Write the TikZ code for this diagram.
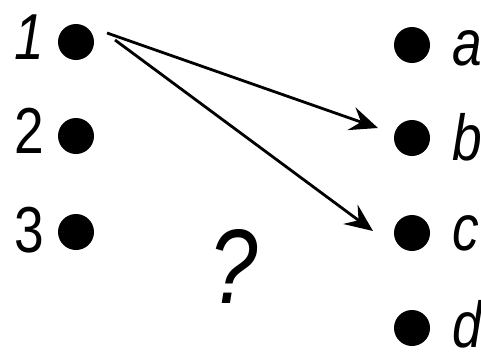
\documentclass[tikz,border=0pt]{standalone}
\usepackage{fontspec}
\setmainfont[FakeStretch=0.82]{Liberation Sans}
\usetikzlibrary{arrows.meta}
\begin{document}
\begin{tikzpicture}[x=1pt,y=-1pt,
  dot/.style={circle,fill=black,inner sep=0pt,minimum size=36pt},
  lbl/.style={inner sep=0pt,font=\fontsize{65}{65}\selectfont},
  arr/.style={line width=2.8pt,-{Stealth[length=28pt,width=24pt,inset=10pt]}}]
\useasboundingbox (0,0) rectangle (481,354);
\node[dot] (n1) at (76,42) {};
\node[dot] (n2) at (76,136) {};
\node[dot] (n3) at (76,232) {};
\node[dot] (a) at (412,45) {};
\node[dot] (b) at (412,138) {};
\node[dot] (c) at (412,233) {};
\node[dot] (d) at (412,328) {};
\node[lbl,anchor=base east] (l1) at (44,59) {\itshape 1};
\node[lbl,anchor=base east] (l2) at (44,153) {2};
\node[lbl,anchor=base east] (l3) at (44,252) {3};
\node[lbl,anchor=base west] (la) at (452,65) {\itshape a};
\node[lbl,anchor=base west] (lb) at (452,160) {\itshape b};
\node[lbl,anchor=base west] (lc) at (452,250) {\itshape c};
\node[lbl,anchor=base west] (ld) at (452,347) {\itshape d};
\node[inner sep=0pt,font=\fontsize{106}{106}\selectfont\itshape] (q) at (234,266) {?};
\coordinate (s1) at (107,33);
\coordinate (s2) at (115,40);
\coordinate (e1) at (378,128);
\coordinate (e2) at (373,231);
\draw[arr] (s1) -- (e1);
\draw[arr] (s2) -- (e2);
\end{tikzpicture}
\end{document}
